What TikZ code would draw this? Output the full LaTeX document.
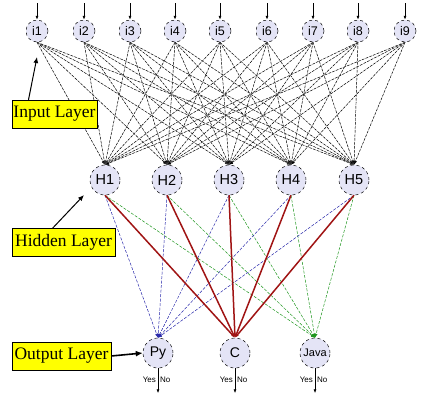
\documentclass[tikz,border=0pt]{standalone}
\usepackage{fontspec}
\setmainfont{Liberation Serif}
\setsansfont{Liberation Sans}
\usetikzlibrary{arrows.meta}
\definecolor{cellfill}{RGB}{228,228,246}
\definecolor{wred}{RGB}{160,20,20}
\definecolor{wblue}{RGB}{40,40,170}
\definecolor{wgreen}{RGB}{30,150,30}
\definecolor{tagyellow}{RGB}{255,255,0}
\begin{document}
\begin{tikzpicture}[x=1pt,y=-1pt,
  neuron/.style={circle, draw, dashed, fill=cellfill, inner sep=0pt, line width=0.5pt},
  inp/.style={neuron, minimum size=22pt, font=\sffamily\fontsize{12.5}{12.5}\selectfont},
  hid/.style={neuron, minimum size=30pt, font=\sffamily\fontsize{14.5}{14.5}\selectfont},
  outn/.style={neuron, minimum size=30pt, font=\sffamily\fontsize{14}{14}\selectfont},
  tag/.style={draw, fill=tagyellow, inner sep=0pt, minimum height=28pt, font=\fontsize{17.5}{18}\selectfont},
  tip/.style={-{Latex[length=4pt,width=3pt]}},
  wih/.style={tip, black, dashed, dash pattern=on 2.5pt off 1.5pt, line width=0.45pt,
              preaction={draw=gray!45, solid, line width=0.45pt}},
  wpy/.style={tip, wblue, dashed, dash pattern=on 3pt off 1.5pt, line width=0.5pt},
  wc/.style={tip, wred, line width=1.5pt},
  wjava/.style={tip, wgreen, dashed, dash pattern=on 3pt off 1.5pt, line width=0.5pt},
  feed/.style={-{Latex[length=4pt,width=3pt]}, line width=0.7pt},
  small/.style={font=\sffamily\fontsize{8}{8}\selectfont, inner sep=0pt}]
\useasboundingbox (0,0) rectangle (425,405);

% input layer
\foreach \k/\x in {1/37,2/84,3/130,4/175,5/220,6/267,7/313,8/358,9/405}{
  \node[inp] (i\k) at (\x,31) {i\k};
  \coordinate (in\k) at (\x,3);
  \draw[feed] (in\k) -- (i\k);
}

% hidden layer
\foreach \k/\x in {1/105,2/167,3/229,4/291,5/354}{
  \node[hid] (H\k) at (\x,180) {H\k};
}

% output layer
\node[outn] (Py) at (158,353) {Py};
\node[outn] (C) at (235,353) {C};
\node[outn, font=\sffamily\fontsize{11}{11}\selectfont] (Java) at (315,353) {Java};

% input -> hidden weights
\foreach \a in {1,...,9}{
  \foreach \b in {1,...,5}{
    \draw[wih] (i\a.south) -- (H\b.north);
  }
}

% hidden -> output weights
\foreach \b in {1,...,5}{
  \draw[wpy] (H\b.south) -- (Py.north);
  \draw[wjava] (H\b.south) -- (Java.north);
}
\foreach \b in {1,...,5}{
  \draw[wc] (H\b.south) -- (C.north);
}

% decision outputs
\foreach \n in {Py,C,Java}{
  \coordinate (\n-end) at ([yshift=-25pt]\n.south);
  \draw[feed] (\n) -- (\n-end);
  \node[small, anchor=east] (\n-yes) at ([xshift=-2pt,yshift=-12pt]\n.south) {Yes};
  \node[small, anchor=west] (\n-no) at ([xshift=2pt,yshift=-12pt]\n.south) {No};
}

% layer tags
\node[tag, minimum width=85pt] (tin) at (54.5,114) {Input Layer};
\node[tag, minimum width=103pt] (thid) at (63.5,242.5) {Hidden Layer};
\node[tag, minimum width=99pt] (tout) at (61.5,356) {Output Layer};

\coordinate (pin) at (37,57);
\coordinate (phid) at (84,195);
\draw[-{Latex[length=6pt,width=5pt]}, line width=1pt] ([xshift=-26pt]tin.north) -- (pin);
\draw[-{Latex[length=6pt,width=5pt]}, line width=1pt] ([xshift=-11pt]thid.north) -- (phid);
\draw[-{Latex[length=7pt,width=6pt]}, line width=1.6pt] (tout.east) -- (Py.west);
\end{tikzpicture}
\end{document}
